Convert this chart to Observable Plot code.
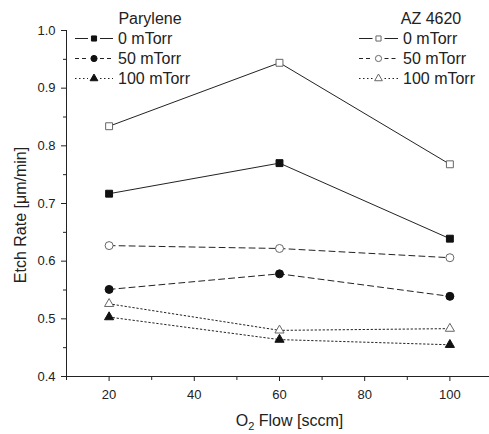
<!DOCTYPE html>
<html>
<head>
<meta charset="utf-8">
<script src="https://cdn.jsdelivr.net/npm/d3@7"></script>
<script src="https://cdn.jsdelivr.net/npm/@observablehq/plot@0.6"></script>
<style>
  html, body { margin: 0; padding: 0; background: white; }
  #chart { width: 489px; height: 434px; }
</style>
</head>
<body>
<div id="chart"></div>
<script>
// ---- data ----
const flow = [20, 60, 100];
const parylene0 = [0.717, 0.770, 0.639];
const parylene50 = [0.551, 0.578, 0.539];
const parylene100 = [0.503, 0.464, 0.455];
const az0 = [0.834, 0.944, 0.768];
const az50 = [0.627, 0.622, 0.606];
const az100 = [0.526, 0.480, 0.483];
const pressures = ["0 mTorr", "50 mTorr", "100 mTorr"];
const materials = ["Parylene", "AZ 4620"];
const yTicks = [0.4, 0.5, 0.6, 0.7, 0.8, 0.9, 1.0];
const yMinor = [0.45, 0.55, 0.65, 0.75, 0.85, 0.95];
const xTicks = [20, 40, 60, 80, 100];
const xMinor = [10, 30, 50, 70, 90];
const xTitle = "Flow [sccm]";
const yTitle = "Etch Rate [μm/min]";

// ---- styles ----
const dashes = [null, "6,4", "1.5,2.5"];
const legendDashes = [null, "4,3", "1.5,2.5"];
const shapes = ["square", "circle", "triangle"];
const d3shapes = [d3.symbolSquare, d3.symbolCircle, d3.symbolTriangle];
const radii = [3.9, 4.0, 3.4];
const materialStyle = [
  {fill: "#111", stroke: "#111"},
  {fill: "white", stroke: "#666"}
];

const seriesValues = [[parylene0, parylene50, parylene100], [az0, az50, az100]];
const rows = [];
seriesValues.forEach((mat, mi) => mat.forEach((vals, pi) => {
  vals.forEach((v, i) => rows.push({x: flow[i], y: v, m: mi, p: pi}));
}));

const marks = [
  Plot.ruleX([10], {stroke: "#222"}),
  Plot.ruleY([0.4], {stroke: "#222"}),
  Plot.axisY(yTicks, {tickSize: 5, tickPadding: 6, tickFormat: d => d.toFixed(1), fontSize: 13, label: null, stroke: "#222", fill: "#222"}),
  Plot.axisY(yMinor, {tickSize: 3, tickFormat: () => "", label: null, stroke: "#222"}),
  Plot.axisX(xTicks, {tickSize: 5, tickPadding: 8, fontSize: 13, label: null, stroke: "#222", fill: "#222"}),
  Plot.axisX(xMinor, {tickSize: 4, tickFormat: () => "", label: null, stroke: "#222"})
];
for (let mi = 0; mi < 2; mi++) {
  for (let pi = 0; pi < 3; pi++) {
    const d = rows.filter(r => r.m === mi && r.p === pi);
    marks.push(Plot.line(d, {x: "x", y: "y", stroke: "#222", strokeWidth: 1, strokeDasharray: dashes[pi]}));
  }
}
for (let mi = 0; mi < 2; mi++) {
  for (let pi = 0; pi < 3; pi++) {
    const d = rows.filter(r => r.m === mi && r.p === pi);
    marks.push(Plot.dot(d, {x: "x", y: "y", symbol: () => shapes[pi], r: radii[pi],
      fill: materialStyle[mi].fill, stroke: materialStyle[mi].stroke, strokeWidth: 1}));
  }
}

const chart = Plot.plot({
  width: 489, height: 434,
  marginLeft: 66, marginRight: 0, marginTop: 30, marginBottom: 58,
  style: {fontFamily: "'Liberation Sans', Arial, sans-serif", color: "#222", background: "white", fontSize: "13px"},
  x: {domain: [10, 109.3]},
  y: {domain: [0.4, 1.0]},
  marks
});
document.getElementById("chart").appendChild(chart);

// ---- titles & legend ----
const svg = d3.select(chart);
const font = "'Liberation Sans', Arial, sans-serif";
const xs = chart.scale("x"), ys = chart.scale("y");
const cx = (xs.range[0] + xs.range[1]) / 2 + 12;
const xt = svg.append("text")
  .attr("x", cx).attr("y", 426)
  .attr("text-anchor", "middle")
  .attr("font-family", font).attr("font-size", 16).attr("fill", "#222");
xt.append("tspan").text("O");
xt.append("tspan").attr("font-size", 11).attr("dy", 4).text("2");
xt.append("tspan").attr("dy", -4).text(" " + xTitle);

const cy = (ys.range[0] + ys.range[1]) / 2 + 12;
svg.append("text")
  .attr("transform", `translate(26,${cy}) rotate(-90)`)
  .attr("text-anchor", "middle")
  .attr("font-family", font).attr("font-size", 16).attr("fill", "#222")
  .text(yTitle);

const legendPos = [
  {title: 150, lx0: 75, lx1: 113, tx: 118},
  {title: 431, lx0: 359, lx1: 398, tx: 403}
];
const rowY = [38.5, 58.5, 78.5];
const legendSizes = [26, 30, 26];
materials.forEach((mat, mi) => {
  const L = legendPos[mi];
  const mid = (L.lx0 + L.lx1) / 2;
  const g = svg.append("g").attr("font-family", font).attr("font-size", 16).attr("fill", "#222");
  g.append("text").attr("x", L.title).attr("y", 18).attr("dy", "0.35em")
    .attr("text-anchor", "middle").text(mat);
  pressures.forEach((p, pi) => {
    [[L.lx0, mid - 6], [mid + 6, L.lx1]].forEach(([a, b]) => {
      g.append("line").attr("x1", a).attr("x2", b)
        .attr("y1", rowY[pi]).attr("y2", rowY[pi])
        .attr("stroke", "#222").attr("stroke-width", 1)
        .attr("stroke-dasharray", legendDashes[pi]);
    });
    g.append("path")
      .attr("d", d3.symbol().type(d3shapes[pi]).size(legendSizes[pi])())
      .attr("transform", `translate(${mid},${rowY[pi]})`)
      .attr("fill", materialStyle[mi].fill).attr("stroke", materialStyle[mi].stroke)
      .attr("stroke-width", 1);
    g.append("text").attr("x", L.tx).attr("y", rowY[pi]).attr("dy", "0.35em")
      .attr("text-anchor", "start").text(p);
  });
});
</script>
</body>
</html>
